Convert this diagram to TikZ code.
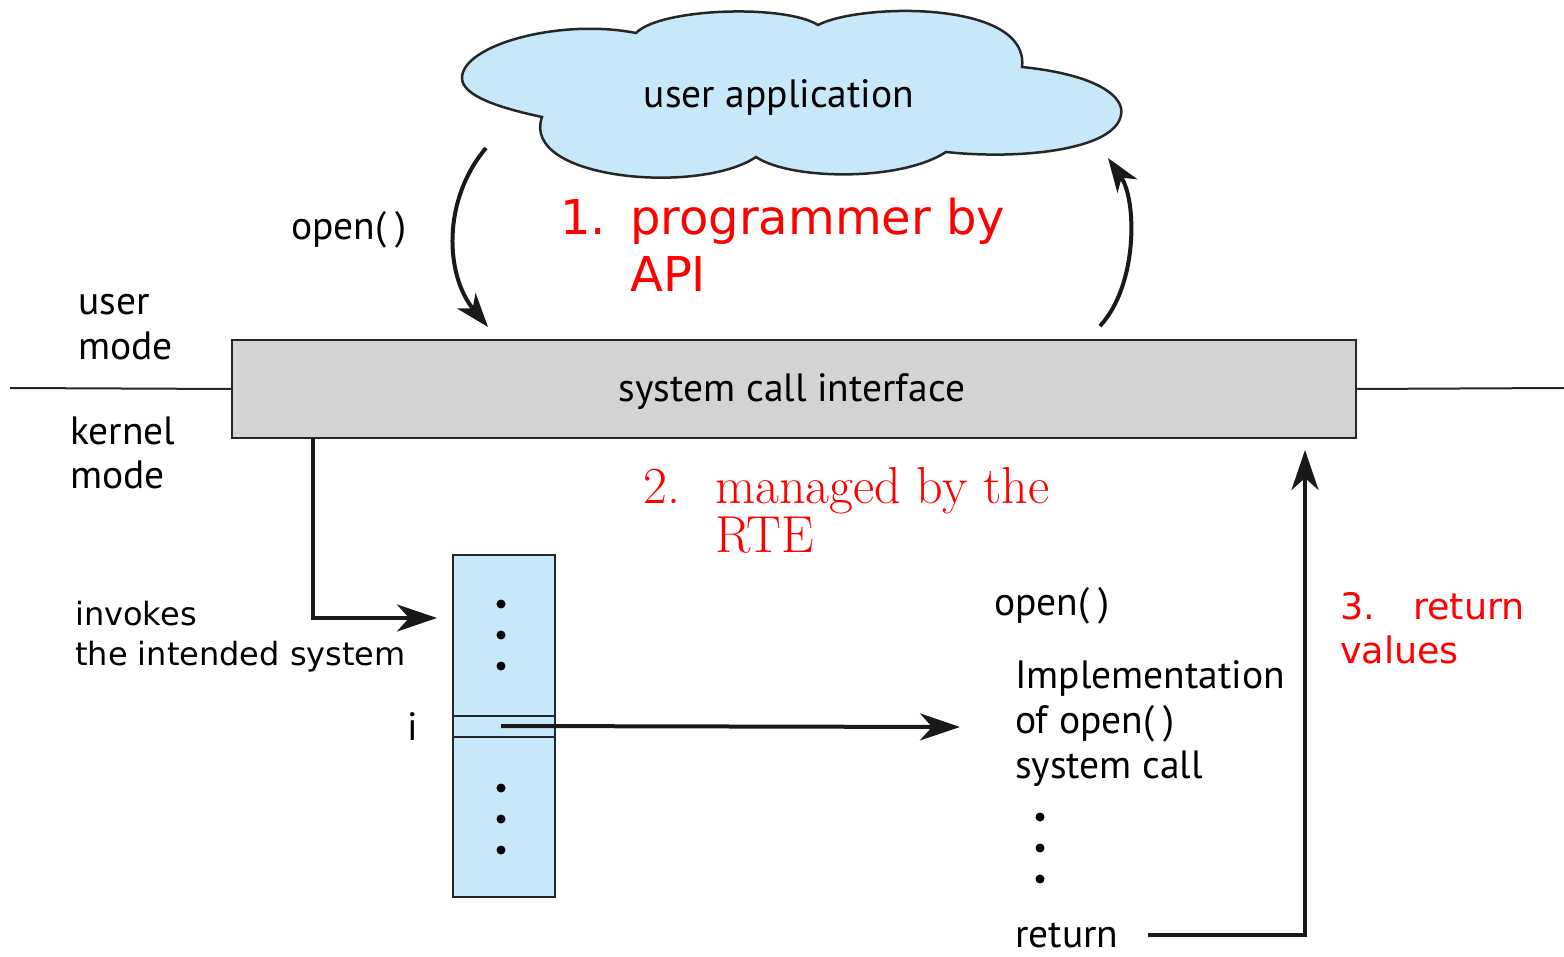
\documentclass[tikz,border=0pt]{standalone}
\usepackage{fontspec}
\newfontfamily\labelfont{PT Sans}
\newfontfamily\notefont{DejaVu Sans}
\usetikzlibrary{arrows.meta}
\definecolor{cloudblue}{RGB}{198,232,248}
\definecolor{boxgray}{RGB}{209,211,212}
\definecolor{edge}{RGB}{38,38,38}
\definecolor{notered}{RGB}{255,0,0}
\newcommand{\callparens}{(\hspace{0.22em})}
\begin{document}
\begin{tikzpicture}[x=1pt,y=-1pt,
  lbl/.style={inner sep=0pt, anchor=base west, text=black,
    font=\labelfont\fontsize{39.5}{45}\selectfont},
  note/.style={inner sep=0pt, anchor=base west, text=notered,
    font=\notefont\fontsize{48}{56}\selectfont},
  smallnote/.style={note, font=\notefont\fontsize{36.5}{44}\selectfont},
  serifnote/.style={note, font=\rmfamily\fontsize{52}{60}\selectfont},
  plainnote/.style={inner sep=0pt, anchor=base west, text=black,
    font=\notefont\fontsize{32}{39}\selectfont},
  frame/.style={draw=edge, line width=2.5pt, inner sep=0pt, outer sep=0pt},
  flow/.style={draw=black!90, line width=4pt,
    -{Stealth[length=40pt, width=27pt, inset=12pt]}},
  curvedflow/.style={flow, -{Stealth[length=34pt, width=24pt, inset=10pt]}},
  dot/.style={fill=black}]
\useasboundingbox (0,0) rectangle (1564,957);

% user application cloud
\path[draw=edge, fill=cloudblue, line width=2.5pt]
  (542,117) .. controls (500,108) and (462,96) .. (462,78)
  .. controls (462,45) and (560,18) .. (636,33)
  .. controls (660,8) and (785,4) .. (818,25)
  .. controls (860,3) and (1030,0) .. (1022,67)
  .. controls (1100,75) and (1125,98) .. (1121,115)
  .. controls (1115,150) and (1020,160) .. (946,152)
  .. controls (900,182) and (790,180) .. (756,157)
  .. controls (700,195) and (520,180) .. cycle;
\node[lbl, anchor=base] (app) at (779,108) {user application};

% system call interface bar and the user/kernel boundary
\node[frame, fill=boxgray, minimum width=1124pt, minimum height=98pt] (sci) at (794,389) {};
\node[lbl, anchor=base] (scitext) at (792,402) {system call interface};
\draw[edge, line width=2pt] (10,388) -- (sci.west);
\draw[edge, line width=2pt] (sci.east) -- (1564,388);

\node[lbl] (um1) at (78,315) {user};
\node[lbl] (um2) at (78,360) {mode};
\node[lbl] (km1) at (70,445) {kernel};
\node[lbl] (km2) at (70,488) {mode};

% call into and return out of the interface
\coordinate (callOut) at (486,148);
\coordinate (callIn) at (488,327);
\coordinate (backOut) at (1100,326);
\coordinate (backIn) at (1108,158);
\draw[curvedflow] (callOut) .. controls (442,200) and (445,275) .. (callIn);
\draw[curvedflow] (backOut) .. controls (1138,285) and (1137,200) .. (backIn);
\node[lbl] (open1) at (291,240) {open\callparens};

% annotations
\node[note] (n1) at (560,235) {1.};
\node[note] (n1a) at (630,235) {programmer by};
\node[note] (n1b) at (630,292) {API};
\node[serifnote] (n2) at (643,503) {2.};
\node[serifnote] (n2a) at (715,503) {managed by the};
\node[serifnote] (n2b) at (715,552) {RTE};
\node[smallnote] (n3) at (1340,619) {3.};
\node[smallnote] (n3a) at (1413,619) {return};
\node[smallnote] (n3b) at (1340,663) {values};
\node[plainnote] (inv1) at (75,625) {invokes};
\node[plainnote] (inv2) at (75,665) {the intended system};

% system call table
\node[frame, fill=cloudblue, minimum width=102pt, minimum height=342pt] (table) at (504,726) {};
\draw[edge, line width=2.5pt] (table.west |- 0,716) -- (table.east |- 0,716);
\draw[edge, line width=2.5pt] (table.west |- 0,737) -- (table.east |- 0,737);
\foreach \y in {604,635,666,788,819,850} \fill[dot] (501,\y) circle (4.5pt);
\node[lbl, anchor=base] (idx) at (413,740) {i};

\coordinate (invokeEnd) at (437,618);
\draw[flow] ([xshift=81pt]sci.south west) |- (invokeEnd);
\coordinate (implIn) at (960,727);
\draw[flow] ([xshift=-3pt]table.center) -- (implIn);

% implementation of open()
\node[lbl] (open2) at (994,615) {open\callparens};
\node[lbl] (impl1) at (1015,688) {Implementation};
\node[lbl] (impl2) at (1015,733) {of open\callparens};
\node[lbl] (impl3) at (1015,778) {system call};
\foreach \y in {817,848,879} \fill[dot] (1040,\y) circle (4.5pt);
\node[lbl] (ret) at (1015,947) {return};

\coordinate (retStart) at (1148,935);
\coordinate (retEnd) at (1305,450);
\draw[flow] (retStart) -| (retEnd);
\end{tikzpicture}
\end{document}
